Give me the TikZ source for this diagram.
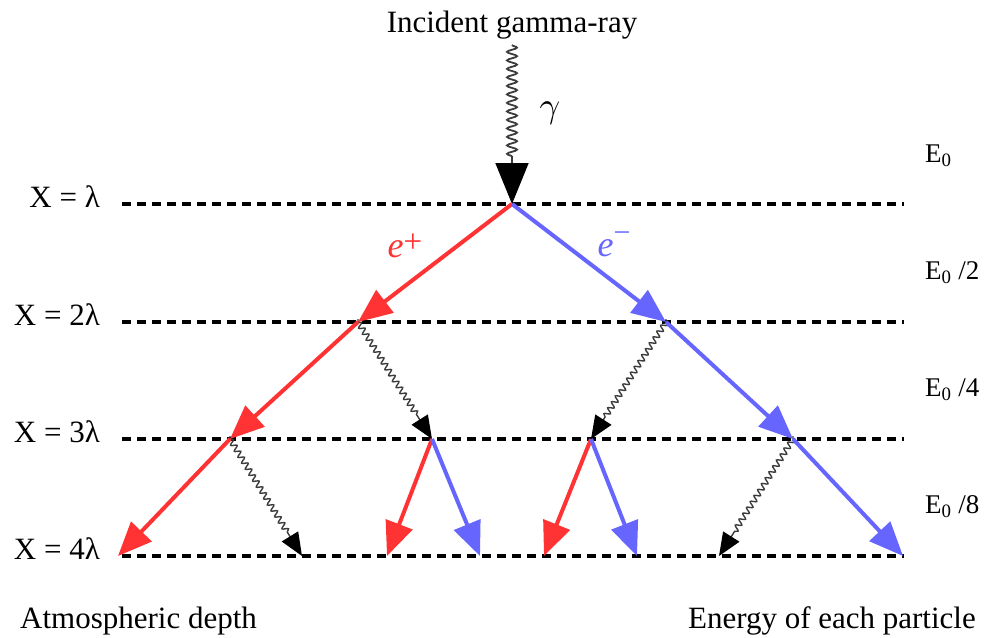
\documentclass[tikz,border=0pt]{standalone}
\usepackage{fontspec}
\usepackage{graphicx}
\setmainfont{Liberation Serif}
\usetikzlibrary{arrows.meta,decorations.pathmorphing}
\definecolor{posred}{RGB}{255,51,51}
\definecolor{negblue}{RGB}{102,102,255}
\definecolor{wavegray}{RGB}{60,60,60}
\begin{document}
\begin{tikzpicture}[x=1pt,y=-1pt,
  level/.style={black,line width=3.4pt,dash pattern=on 8.5pt off 6.5pt},
  posarrow/.style={posred,line width=4pt,-{Triangle[length=34pt,width=28pt]}},
  negarrow/.style={negblue,line width=4pt,-{Triangle[length=34pt,width=28pt]}},
  photon/.style={wavegray,line width=1.4pt,shorten <=3pt,
    decorate,decoration={snake,amplitude=2.8pt,segment length=7pt,post length=26pt},
    -{Triangle[length=23pt,width=19pt,black]}},
  bigphoton/.style={wavegray,line width=1.8pt,
    decorate,decoration={snake,amplitude=5pt,segment length=8.5pt,post length=44pt},
    -{Triangle[length=41pt,width=33pt,black]}},
  lab/.style={font=\fontsize{31}{37}\selectfont,inner sep=0pt},
  elab/.style={font=\fontsize{27}{32}\selectfont,inner sep=0pt,anchor=base west},
  xlab/.style={lab,anchor=base east}]
\useasboundingbox (0,0) rectangle (984,637);
% level lines
\coordinate (l1w) at (122,204); \coordinate (l1e) at (904,204);
\coordinate (l2w) at (122,322); \coordinate (l2e) at (904,322);
\coordinate (l3w) at (122,439); \coordinate (l3e) at (904,439);
\coordinate (l4w) at (122,556); \coordinate (l4e) at (904,556);
\draw[level] (l1w) -- (l1e);
\draw[level] (l2w) -- (l2e);
\draw[level] (l3w) -- (l3e);
\draw[level] (l4w) -- (l4e);
% vertices
\coordinate (top) at (512,45);
\coordinate (v0) at (512,204);
\coordinate (r2) at (358,322);
\coordinate (b2) at (666,322);
\coordinate (r3) at (230,439);
\coordinate (p1) at (432,439);
\coordinate (p2) at (591,439);
\coordinate (b3) at (793,439);
\coordinate (r4a) at (118,556);
\coordinate (g4a) at (302,556);
\coordinate (r4b) at (387,556);
\coordinate (b4b) at (480,556);
\coordinate (r4c) at (544,556);
\coordinate (b4c) at (637,556);
\coordinate (g4d) at (719,556);
\coordinate (b4d) at (903,556);
% photons
\draw[bigphoton] (top) -- (v0);
\draw[photon] (r2) -- (p1);
\draw[photon] (b2) -- (p2);
\draw[photon] (r3) -- (g4a);
\draw[photon] (b3) -- (g4d);
% electrons / positrons
\draw[posarrow] (v0) -- (r2);
\draw[posarrow] (r2) -- (r3);
\draw[posarrow] (r3) -- (r4a);
\draw[posarrow] (p1) -- (r4b);
\draw[posarrow] (p2) -- (r4c);
\draw[negarrow] (v0) -- (b2);
\draw[negarrow] (b2) -- (b3);
\draw[negarrow] (b3) -- (b4d);
\draw[negarrow] (p1) -- (b4b);
\draw[negarrow] (p2) -- (b4c);
% labels
\node[lab,anchor=base] (title) at (512,32) {Incident gamma-ray};
\node[inner sep=0pt] (gam) at (550,113) {\scalebox{3.6}{$\gamma$}};
\node[font=\fontsize{36}{42}\selectfont,inner sep=0pt,text=posred] (ep) at (405,246) {\itshape e\raisebox{0.12em}{\upshape\fontsize{33}{38}\selectfont +}};
\node[font=\fontsize{36}{42}\selectfont,inner sep=0pt,text=negblue] (em) at (614,244) {\itshape e\raisebox{0.38em}{\upshape\fontsize{30}{34}\selectfont −}};
\node[xlab] (x1) at (100,207) {X = λ};
\node[xlab] (x2) at (100,325) {X = 2λ};
\node[xlab] (x3) at (100,442) {X = 3λ};
\node[xlab] (x4) at (100,559) {X = 4λ};
\node[elab] (e1) at (925,162) {E\textsubscript{0}};
\node[elab] (e2) at (925,279) {E\textsubscript{0} /2};
\node[elab] (e3) at (925,396) {E\textsubscript{0} /4};
\node[elab] (e4) at (925,513) {E\textsubscript{0} /8};
\node[lab,anchor=base west] (depth) at (20,628) {Atmospheric depth};
\node[lab,anchor=base east] (energy) at (976,628) {Energy of each particle};
\end{tikzpicture}
\end{document}
